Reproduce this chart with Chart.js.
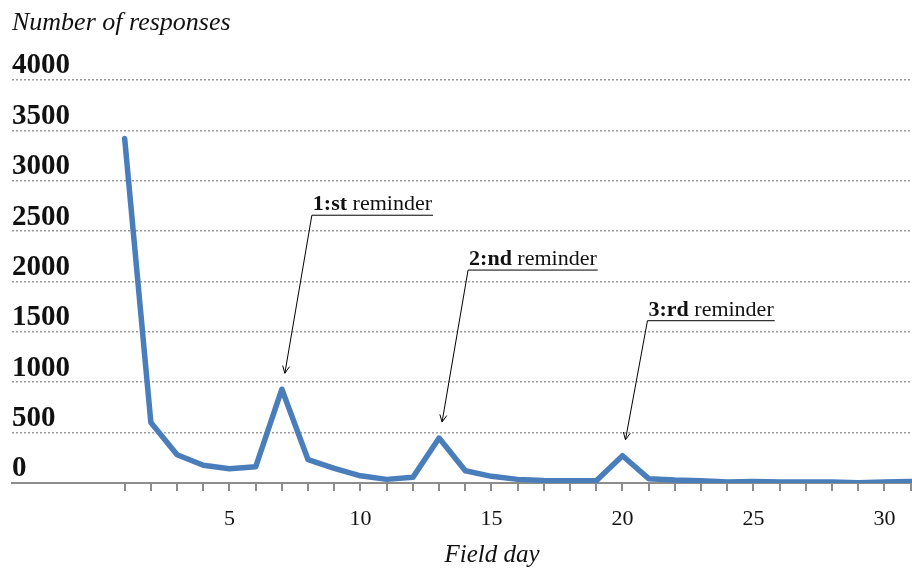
<!DOCTYPE html>
<html>
<head>
<meta charset="utf-8">
<script src="https://cdn.jsdelivr.net/npm/chart.js@4.4.1/dist/chart.umd.min.js"></script>
<style>
    html, body { margin: 0; padding: 0; background: #fff; }
    #wrap { width: 912px; height: 571px; position: relative; }
</style>
</head>
<body>
<div id="wrap"><canvas id="chart"></canvas></div>
<script>
// field days and responses per day
const days = [1, 2, 3, 4, 5, 6, 7, 8, 9, 10, 11, 12, 13, 14, 15, 16, 17, 18, 19, 20, 21, 22, 23, 24, 25, 26, 27, 28, 29, 30, 31];
const responses = [3420, 600, 280, 175, 140, 160, 930, 230, 145, 70, 35, 55, 445, 120, 65, 35, 25, 22, 22, 270, 42, 28, 22, 8, 15, 8, 8, 8, 2, 10, 15];
const yTicks = [0, 500, 1000, 1500, 2000, 2500, 3000, 3500, 4000];
const xLabelDays = [5, 10, 15, 20, 25, 30];

// reminders
const reminderDays = [7, 13, 20];
const reminderOrd = ['1:st', '2:nd', '3:rd'];
const reminderWord = ' reminder';

const yTitle = 'Number of responses';
const xTitle = 'Field day';

const SERIF = '"Liberation Serif", "DejaVu Serif", serif';
const GRID = '#9a9a9a';
const AXIS = '#8c8c8c';
const LINE = '#4a7ebb';

// leader corner relative to arrow tip, per reminder
const leaderOffsets = [[27, -158], [26, -152], [22, -119]];

const annotate = {
    id: 'annotate',
    afterDraw(chart) {
        const ctx = chart.ctx;
        const xs = chart.scales.x, ys = chart.scales.y;
        ctx.save();

        // axis titles
        ctx.fillStyle = '#111';
        ctx.font = 'italic 26px ' + SERIF;
        ctx.textAlign = 'left';
        ctx.textBaseline = 'alphabetic';
        ctx.fillText(yTitle, 12, 30);
        ctx.textAlign = 'center';
        ctx.font = 'italic 25px ' + SERIF;
        ctx.fillText(xTitle, 492, 562);

        // reminder callouts
        ctx.strokeStyle = '#000';
        ctx.lineWidth = 1;
        reminderDays.forEach((d, i) => {
            const v = responses[days.indexOf(d)];
            const tx = xs.getPixelForValue(d) + 3;
            const ty = ys.getPixelForValue(v) - 16;
            const cx = tx + leaderOffsets[i][0];
            const cy = ty + leaderOffsets[i][1];

            ctx.font = 'bold 22px ' + SERIF;
            const w1 = ctx.measureText(reminderOrd[i]).width;
            ctx.font = '22px ' + SERIF;
            const w2 = ctx.measureText(reminderWord).width;

            ctx.textAlign = 'left';
            ctx.font = 'bold 22px ' + SERIF;
            ctx.fillText(reminderOrd[i], cx + 1, cy - 5);
            ctx.font = '22px ' + SERIF;
            ctx.fillText(reminderWord, cx + 1 + w1, cy - 5);

            ctx.beginPath();
            ctx.moveTo(cx + w1 + w2 + 2, cy);
            ctx.lineTo(cx, cy);
            ctx.lineTo(tx, ty);
            ctx.stroke();

            // open arrow head
            const ang = Math.atan2(ty - cy, tx - cx);
            const L = 8, spread = 0.45;
            ctx.beginPath();
            ctx.moveTo(tx - L * Math.cos(ang - spread), ty - L * Math.sin(ang - spread));
            ctx.lineTo(tx, ty);
            ctx.lineTo(tx - L * Math.cos(ang + spread), ty - L * Math.sin(ang + spread));
            ctx.stroke();
        });
        ctx.restore();
    }
};

const ctx = document.getElementById('chart').getContext('2d');
new Chart(ctx, {
    type: 'line',
    data: {
        datasets: [{
            data: days.map((d, i) => ({ x: d, y: responses[i] })),
            borderColor: LINE,
            borderWidth: 5.5,
            pointRadius: 0,
            tension: 0,
            borderCapStyle: 'round',
            borderJoinStyle: 'round'
        }]
    },
    options: {
        responsive: true,
        maintainAspectRatio: false,
        animation: false,
        layout: { padding: { left: 12, right: 0, top: 80, bottom: 24 } },
        plugins: {
            legend: { display: false },
            tooltip: { enabled: false }
        },
        scales: {
            x: {
                type: 'linear',
                min: -3.3,
                max: 31.05,
                afterBuildTicks: (axis) => { axis.ticks = days.map(d => ({ value: d })); },
                ticks: {
                    autoSkip: false,
                    maxRotation: 0,
                    padding: 0,
                    color: '#111',
                    font: { family: SERIF, size: 22, lineHeight: 2.55 },
                    callback: (v) => xLabelDays.includes(v) ? String(v) : ''
                },
                grid: { drawOnChartArea: false, tickLength: 8, color: AXIS, lineWidth: 2 },
                border: { color: AXIS, width: 2 }
            },
            y: {
                min: 0,
                max: 4000,
                afterBuildTicks: (axis) => { axis.ticks = yTicks.map(v => ({ value: v })); },
                ticks: {
                    mirror: true,
                    padding: 0,
                    labelOffset: -14,
                    color: '#111',
                    font: { family: SERIF, size: 29, weight: 'bold' },
                    callback: (v) => String(v)
                },
                grid: { drawTicks: false, color: GRID, lineWidth: 1.5 },
                border: { display: false, dash: [2, 2] }
            }
        }
    },
    plugins: [annotate]
});
</script>
</body>
</html>
